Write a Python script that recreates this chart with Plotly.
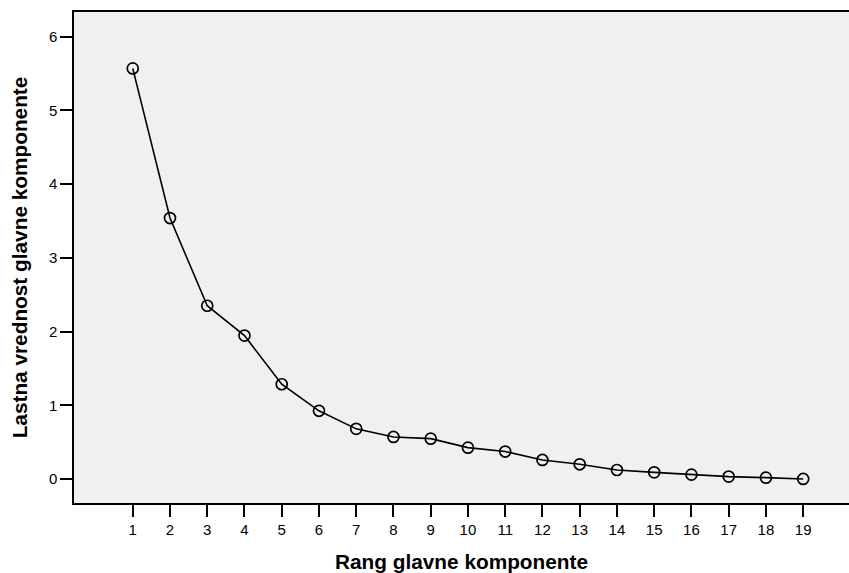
import plotly.graph_objects as go

rang = list(range(1, 20))
lastna_vrednost = [5.57, 3.54, 2.35, 1.945, 1.285, 0.925, 0.68, 0.57, 0.547, 0.425,
                   0.372, 0.258, 0.199, 0.122, 0.09, 0.059, 0.032, 0.018, 0.0]
y_ticks = [0, 1, 2, 3, 4, 5, 6]

fig = go.Figure()
fig.add_trace(go.Scatter(
    x=rang, y=lastna_vrednost, mode="lines+markers",
    line=dict(color="black", width=1.6),
    marker=dict(symbol="circle-open", size=11, color="black", line=dict(width=1.7, color="black")),
    showlegend=False,
))

font_family = "Liberation Sans, Arial, sans-serif"
fig.update_layout(
    width=849, height=573,
    margin=dict(l=74, r=0, t=12, b=70),
    paper_bgcolor="white",
    plot_bgcolor="#f0f0f0",
    font=dict(family=font_family, size=15, color="black"),
    xaxis=dict(
        range=[-0.577, 20.23],
        tickmode="array", tickvals=rang, ticktext=[str(v) for v in rang],
        ticks="outside", ticklen=12, tickwidth=1.5, tickcolor="black",
        showline=True, linecolor="black", linewidth=1.5, mirror=True,
        showgrid=False, zeroline=False,
        tickfont=dict(size=15, family=font_family),
        title=dict(text="<b>Rang glavne komponente</b>", font=dict(size=20.8, family=font_family), standoff=18),
    ),
    yaxis=dict(
        range=[-0.326, 6.335],
        tickmode="array", tickvals=y_ticks, ticktext=[str(v) for v in y_ticks],
        ticks="outside", ticklen=12, tickwidth=1.5, tickcolor="black",
        showline=True, linecolor="black", linewidth=1.5, mirror=False,
        showgrid=False, zeroline=False,
        tickfont=dict(size=15, family=font_family),
        title=dict(text="<b>Lastna vrednost glavne komponente</b>", font=dict(size=20.8, family=font_family), standoff=16),
    ),
)

fig.write_html("out.html")
